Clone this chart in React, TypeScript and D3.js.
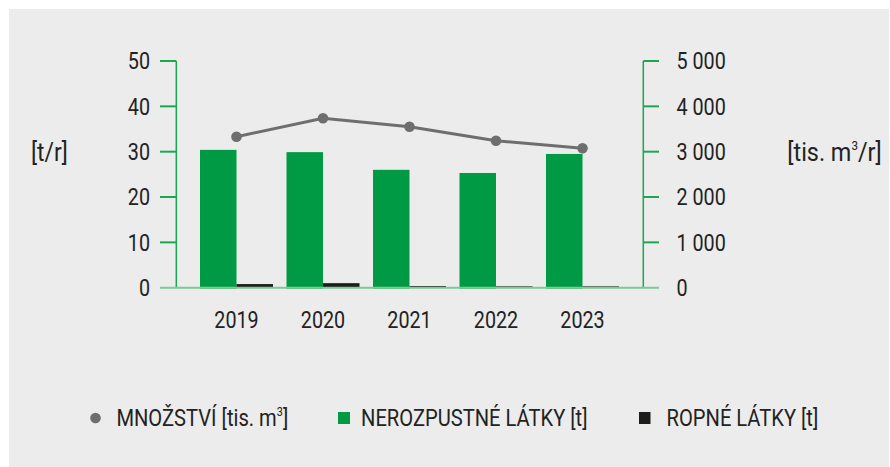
import React from "react";
import * as d3 from "d3";

const years = ["2019", "2020", "2021", "2022", "2023"];
const nerozpustne = [30.4, 29.9, 26.0, 25.3, 29.5];
const ropne = [0.8, 1.0, 0.35, 0.3, 0.3];
const mnozstvi = [3330, 3736, 3551, 3242, 3074];
const leftTicks = [0, 10, 20, 30, 40, 50];
const rightTicks = [0, 1000, 2000, 3000, 4000, 5000];

const W = 890;
const H = 467;
const FONT = "Roboto, 'Noto Sans', sans-serif";
const TXT = "#222222";
const GREEN = "#009a44";
const BLACK = "#1d1d1b";
const LINE = "#6e6e6e";
const AXIS = "#1aa951";
const BASE = "#7dc99a";

function CText({ x, y, anchor = "start", size = 23.5, sx = 0.84, children }: any) {
  return (
    <text
      transform={`translate(${x},${y}) scale(${sx},1)`}
      textAnchor={anchor}
      fontFamily={FONT}
      fontSize={size}
      fill={TXT}
    >
      {children}
    </text>
  );
}

export default function App() {
  const xLeft = 176.3;
  const xRight = 643.3;
  const y = d3.scaleLinear().domain([0, 50]).range([287.7, 61]);
  const yR = d3.scaleLinear().domain([0, 5000]).range([287.7, 61]);
  const x = d3.scaleBand<string>().domain(years).range([193.25, 625.75]).padding(0);
  const half = 36.5;
  const cx = (d: string) => (x(d) as number) + x.bandwidth() / 2;

  const line = d3
    .line<number>()
    .x((_, i) => cx(years[i]))
    .y((v) => yR(v));

  const fmt = (v: number) => d3.format(",")(v).replace(/,/g, " ");

  return (
    <svg width={W} height={H} style={{ position: "absolute", left: 0, top: 0 }}>
      <rect x={9} y={9} width={880} height={458} fill="#ececec" />

      {/* left axis */}
      <line x1={xLeft} x2={xLeft} y1={y(50)} y2={y(0)} stroke={AXIS} strokeWidth={1.5} />
      {leftTicks.map((t) => (
        <g key={"l" + t}>
          {t > 0 && <line x1={160} x2={xLeft} y1={y(t)} y2={y(t)} stroke={AXIS} strokeWidth={2} />}
          <CText x={150} y={y(t) + 8.3} anchor="end">
            {t}
          </CText>
        </g>
      ))}

      {/* right axis */}
      <line x1={xRight} x2={xRight} y1={yR(5000)} y2={yR(0)} stroke={AXIS} strokeWidth={1.5} />
      {rightTicks.map((t) => (
        <g key={"r" + t}>
          {t > 0 && <line x1={xRight} x2={659} y1={yR(t)} y2={yR(t)} stroke={AXIS} strokeWidth={2} />}
          <CText x={676.5} y={yR(t) + 8.3}>
            {fmt(t)}
          </CText>
        </g>
      ))}

      {/* bars */}
      {years.map((yr, i) => (
        <g key={yr}>
          <rect x={cx(yr) - half} y={y(nerozpustne[i])} width={half} height={y(0) - y(nerozpustne[i]) + 1} fill={GREEN} />
          <rect x={cx(yr)} y={y(ropne[i])} width={half} height={y(0) - y(ropne[i])} fill={BLACK} />
          <CText x={cx(yr)} y={328} anchor="middle">
            {yr}
          </CText>
        </g>
      ))}

      {/* baseline */}
      <line x1={160} x2={659} y1={y(0)} y2={y(0)} stroke={BASE} strokeWidth={2} />

      {/* line */}
      <path d={line(mnozstvi) as string} fill="none" stroke={LINE} strokeWidth={3} />
      {mnozstvi.map((v, i) => (
        <circle key={i} cx={cx(years[i])} cy={yR(v)} r={5.3} fill={LINE} />
      ))}

      {/* axis titles */}
      <CText x={31} y={161} size={26} sx={0.88}>[t/r]</CText>
      <text transform={`translate(787.3,161) scale(0.9,1)`} fontFamily={FONT} fontSize={26} fill={TXT}>
        [tis. m<tspan dy={-11} fontSize={13}>3</tspan>
        <tspan dy={11}>/r]</tspan>
      </text>

      {/* legend */}
      <circle cx={95.5} cy={418} r={5.3} fill={LINE} />
      <text transform={`translate(116.4,426) scale(0.84,1)`} fontFamily={FONT} fontSize={24} fill={TXT}>
        MNOŽSTVÍ [tis. m<tspan dy={-10} fontSize={13}>3</tspan>
        <tspan dy={10}>]</tspan>
      </text>
      <rect x={338} y={412} width={12} height={12} fill={GREEN} />
      <CText x={361} y={426} size={24} sx={0.84}>NEROZPUSTNÉ LÁTKY [t]</CText>
      <rect x={639} y={412} width={11.5} height={12} fill={BLACK} />
      <CText x={666.5} y={426} size={24} sx={0.84}>ROPNÉ LÁTKY [t]</CText>
    </svg>
  );
}
